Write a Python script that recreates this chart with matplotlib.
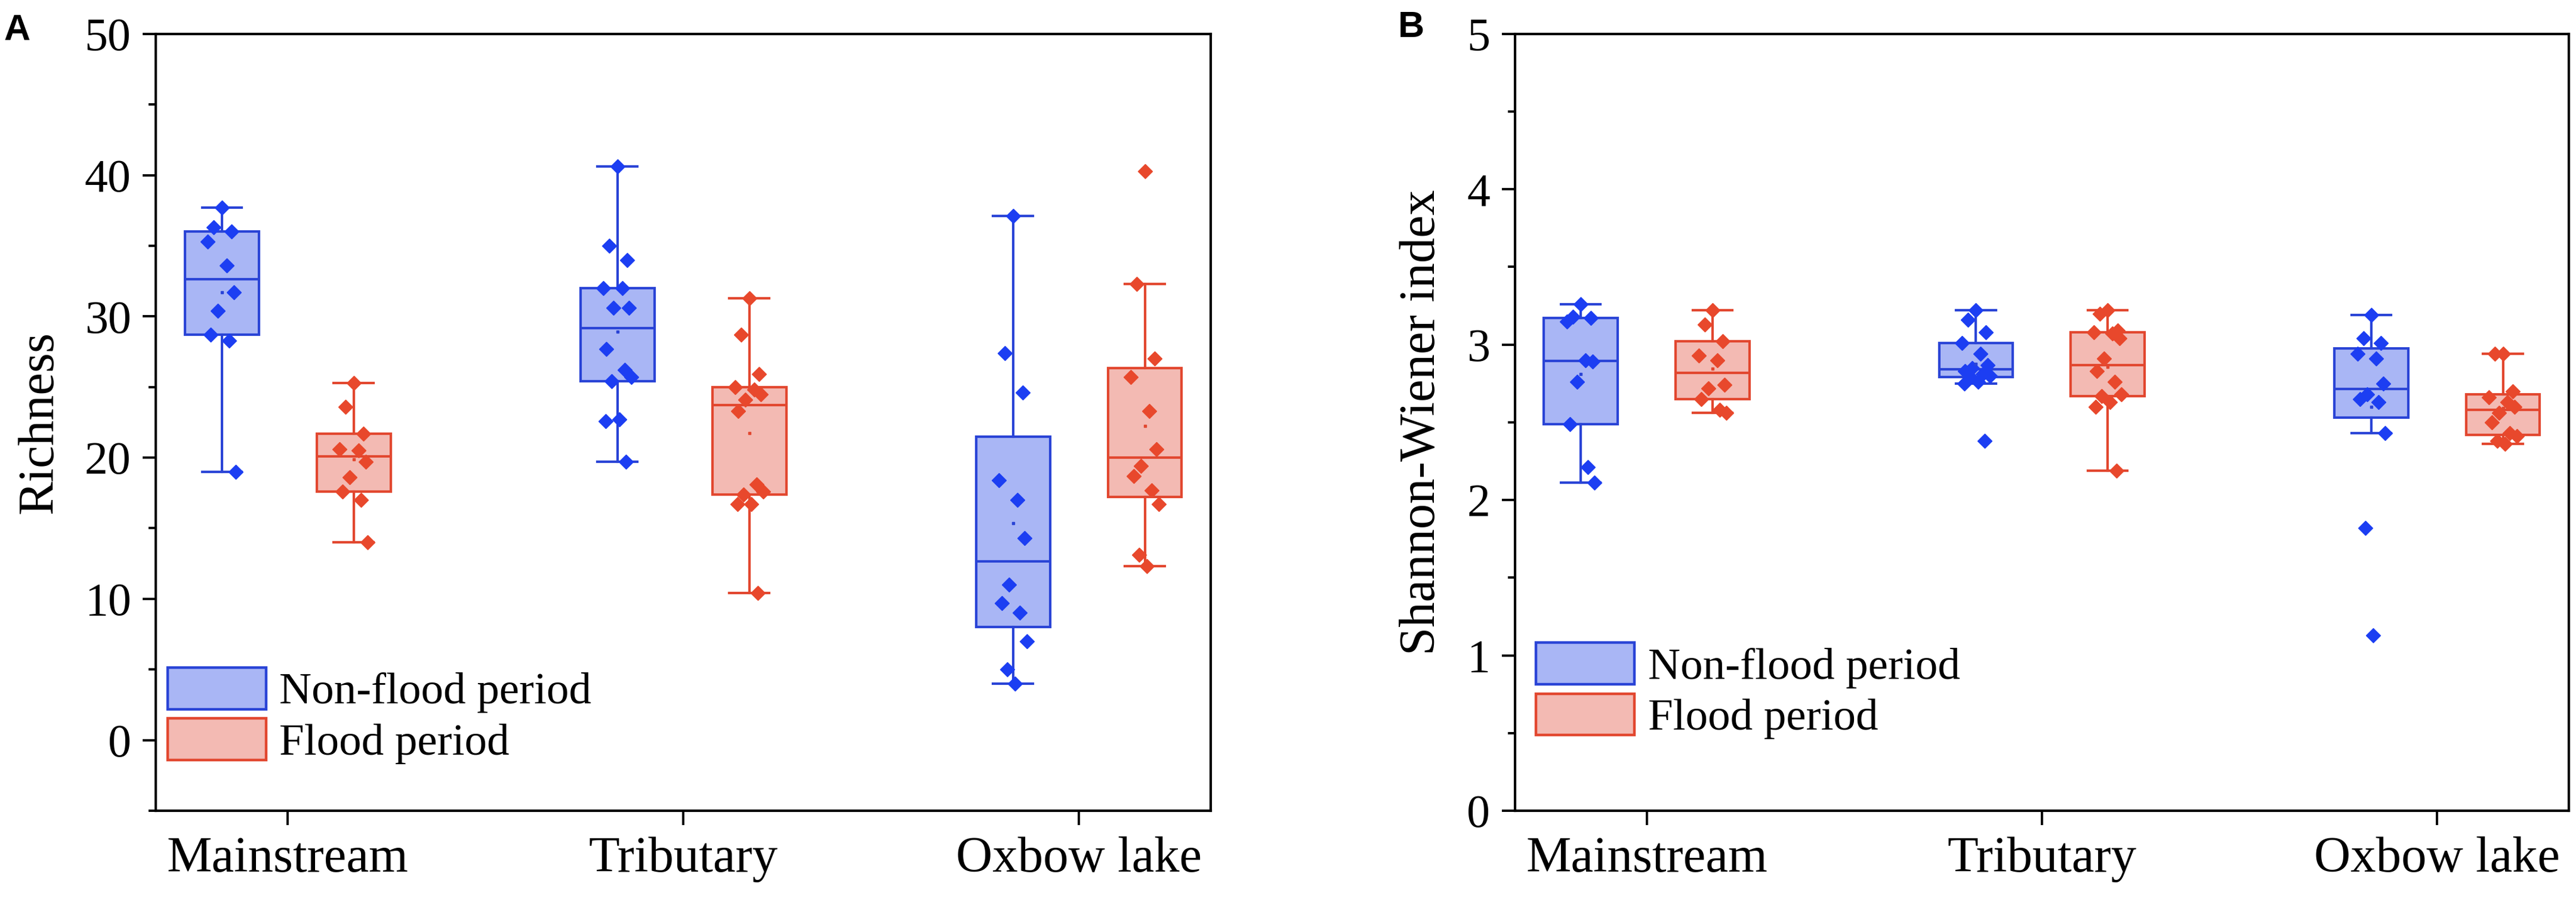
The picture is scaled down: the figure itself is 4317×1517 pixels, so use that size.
import numpy as np
import matplotlib
matplotlib.use('Agg')
import matplotlib.pyplot as plt
from matplotlib.patches import Patch
from matplotlib.ticker import MultipleLocator


# Data
sites = ['Mainstream', 'Tributary', 'Oxbow lake']
periods = ['Non-flood period', 'Flood period']

# A: Richness
rich_nonflood = [
    [37.7, 36.3, 36.0, 35.3, 33.6, 31.7, 30.4, 28.7, 28.3, 19.0],
    [40.6, 35.0, 34.0, 32.0, 32.0, 30.6, 30.6, 27.7, 26.2, 25.7, 25.4, 22.7, 22.6, 19.7],
    [37.1, 27.4, 24.6, 18.4, 17.0, 14.3, 11.0, 9.7, 9.0, 7.0, 5.0, 4.0],
]
rich_flood = [
    [25.3, 23.6, 21.7, 20.6, 20.5, 19.7, 18.6, 17.6, 17.0, 14.0],
    [31.3, 28.7, 25.9, 25.0, 24.8, 24.5, 24.1, 23.3, 18.1, 17.6, 17.4, 16.7, 16.7, 10.4],
    [40.3, 32.3, 27.0, 25.7, 23.3, 20.6, 19.4, 18.7, 17.7, 16.7, 13.1, 12.3],
]

# B: Shannon-Wiener index
shan_nonflood = [
    [3.26, 3.18, 3.17, 3.15, 2.90, 2.89, 2.76, 2.49, 2.21, 2.11],
    [3.22, 3.16, 3.08, 3.01, 2.94, 2.87, 2.85, 2.83, 2.81, 2.80, 2.79, 2.76, 2.75, 2.38],
    [3.19, 3.04, 3.01, 2.94, 2.91, 2.75, 2.68, 2.65, 2.63, 2.43, 1.82, 1.13],
]
shan_flood = [
    [3.22, 3.13, 3.02, 2.93, 2.90, 2.74, 2.72, 2.65, 2.58, 2.56],
    [3.22, 3.20, 3.09, 3.08, 3.07, 3.04, 2.91, 2.83, 2.76, 2.68, 2.67, 2.63, 2.60, 2.19],
    [2.94, 2.94, 2.70, 2.66, 2.63, 2.60, 2.56, 2.50, 2.43, 2.41, 2.38, 2.36],
]


# Style
blue_edge = '#2a44d6'
blue_fill = '#a9b6f5'
blue_pt = '#1c3ef2'
red_edge = '#e2472f'
red_fill = '#f3bab3'
red_pt = '#e8482c'
jitter = [0.0, -0.02, 0.025, -0.035, 0.012, 0.03, -0.01, -0.028, 0.018, 0.035, -0.015, 0.005, -0.03, 0.022]

plt.rcParams['font.family'] = ['Liberation Serif', 'DejaVu Serif']


def tukey_stats(vals):
    v = np.sort(np.asarray(vals, dtype=float))
    n = len(v)
    half = (n + 1) // 2
    q1 = np.median(v[:half])
    q3 = np.median(v[n - half:])
    iqr = q3 - q1
    lo = v[v >= q1 - 1.5 * iqr].min()
    hi = v[v <= q3 + 1.5 * iqr].max()
    return dict(med=np.median(v), q1=q1, q3=q3, whislo=lo, whishi=hi,
                fliers=[], mean=v.mean())


def draw_group(ax, groups, centre_shift, edge, fill, pt):
    pos = np.arange(1, len(groups) + 1) + centre_shift
    stats = [tukey_stats(g) for g in groups]
    lw = 3.0
    ax.bxp(stats, positions=pos, widths=0.187, capwidths=0.1, patch_artist=True,
           showfliers=False, showmeans=False, manage_ticks=False,
           boxprops=dict(facecolor=fill, edgecolor=edge, linewidth=lw),
           whiskerprops=dict(color=edge, linewidth=lw),
           capprops=dict(color=edge, linewidth=lw),
           medianprops=dict(color=edge, linewidth=lw))
    for p, g, s in zip(pos, groups, stats):
        xs = p + np.array([jitter[k % len(jitter)] for k in range(len(g))])
        ax.plot(xs, g, ls='none', marker='D', ms=12.5, color=pt, mec=pt, zorder=4)
        ax.plot([p], [s['mean']], ls='none', marker='s', ms=3.5, color=edge, zorder=4)


def style_axes(ax, ylim, major, minor, ylabel, legend_anchor):
    ax.set_xlim(2 / 3, 10 / 3)
    ax.set_ylim(*ylim)
    ax.set_xticks([1, 2, 3])
    ax.set_xticklabels(sites, fontsize=61)
    ax.yaxis.set_major_locator(MultipleLocator(major))
    ax.yaxis.set_minor_locator(MultipleLocator(minor))
    ax.tick_params(axis='y', which='major', direction='out', length=16, width=2.8,
                   labelsize=56, pad=14)
    ax.tick_params(axis='y', which='minor', direction='out', length=8.5, width=2.8)
    ax.tick_params(axis='x', which='major', direction='out', length=17, width=2.8, pad=14)
    for sp in ax.spines.values():
        sp.set_linewidth(3.0)
    ax.set_ylabel(ylabel, fontsize=61, labelpad=26)
    handles = [Patch(facecolor=blue_fill, edgecolor=blue_edge, linewidth=3.2),
               Patch(facecolor=red_fill, edgecolor=red_edge, linewidth=3.2)]
    ax.legend(handles, periods, loc='lower left', bbox_to_anchor=legend_anchor,
              frameon=False, fontsize=54, handlelength=2.2, handleheight=1.05,
              handletextpad=0.3, labelspacing=0.12, borderpad=0, borderaxespad=0)


fig = plt.figure(figsize=(43.17, 15.17), dpi=100)
axA = fig.add_axes([0.0605, 0.1042, 0.4095, 0.8583])
axB = fig.add_axes([0.5881, 0.1042, 0.4091, 0.8583])

draw_group(axA, rich_nonflood, -1 / 6, blue_edge, blue_fill, blue_pt)
draw_group(axA, rich_flood, 1 / 6, red_edge, red_fill, red_pt)
style_axes(axA, (-5, 50), 10, 5, 'Richness', (0.011, 0.06))

draw_group(axB, shan_nonflood, -1 / 6, blue_edge, blue_fill, blue_pt)
draw_group(axB, shan_flood, 1 / 6, red_edge, red_fill, red_pt)
style_axes(axB, (0, 5), 1, 0.5, 'Shannon-Wiener index', (0.02, 0.092))

fig.text(0.0015, 0.985, 'A', fontsize=44, fontweight='bold', family='Liberation Sans',
         ha='left', va='top')
fig.text(0.5428, 0.988, 'B', fontsize=44, fontweight='bold', family='Liberation Sans',
         ha='left', va='top')

fig.savefig('out.png', dpi=100)
